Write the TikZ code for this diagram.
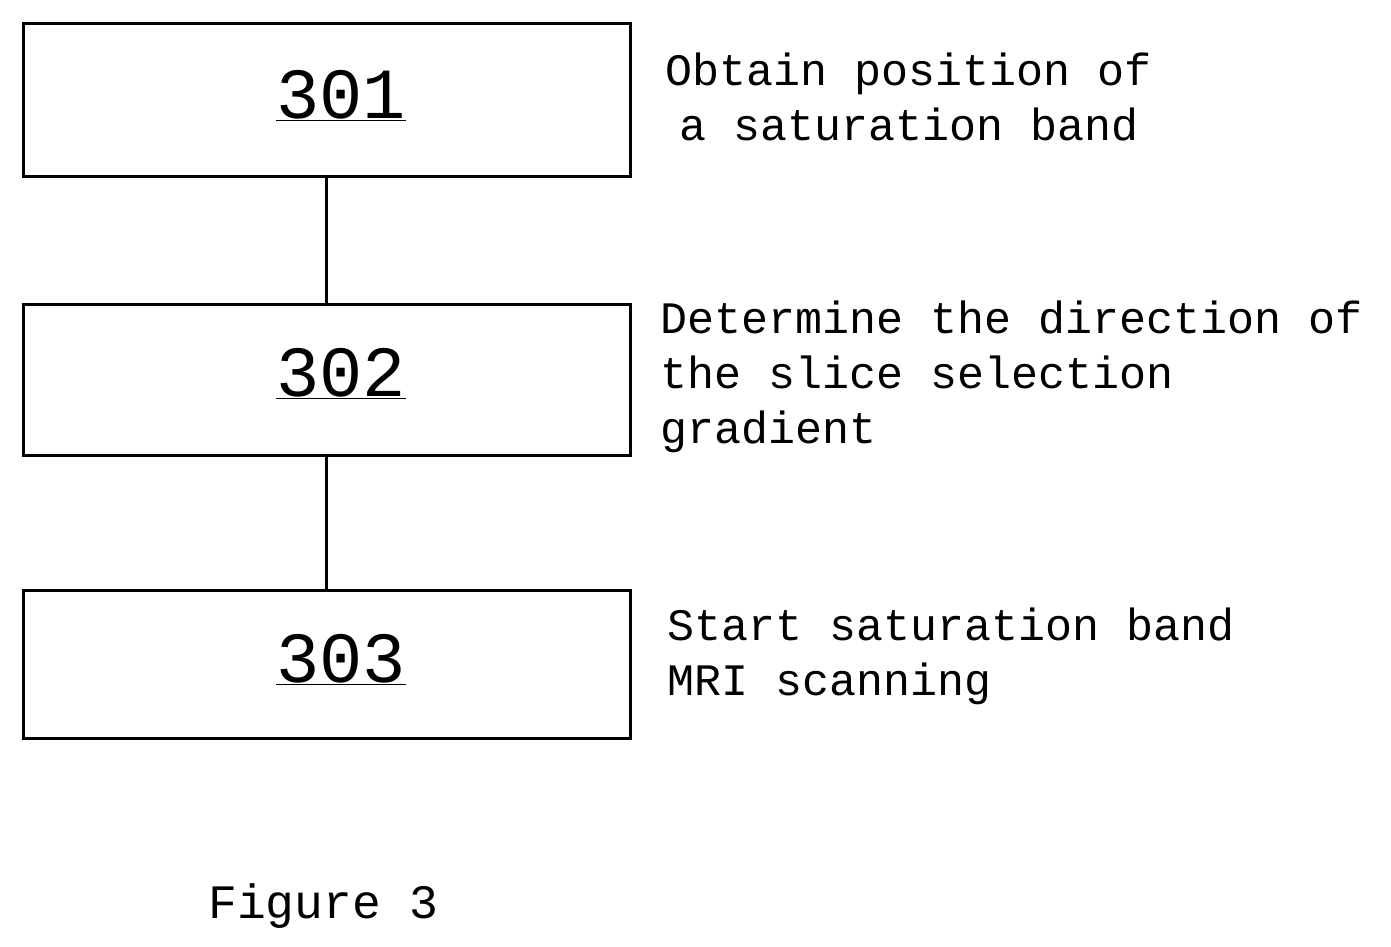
\documentclass[tikz,border=0pt]{standalone}
\usepackage{fontspec}
\setmonofont{Liberation Mono}
\begin{document}
\begin{tikzpicture}[x=1pt,y=-1pt,
  boxst/.style={draw,line width=3pt,minimum width=607pt,anchor=north west,inner sep=0pt},
  numst/.style={font=\ttfamily\fontsize{72}{72}\selectfont,anchor=base,inner sep=0pt},
  txt/.style={font=\ttfamily\fontsize{45}{55}\selectfont,anchor=base west,inner sep=0pt}]
\useasboundingbox (0,0) rectangle (1391,946);
\node[boxst,minimum height=153pt] (b1) at (22,22) {};
\node[boxst,minimum height=151pt] (b2) at (22,303) {};
\node[boxst,minimum height=148pt] (b3) at (22,589) {};
\draw[line width=3pt] (b1.south -| 326,0) -- (b2.north -| 326,0);
\draw[line width=3pt] (b2.south -| 326,0) -- (b3.north -| 326,0);
\node[numst] (n1) at (341,118) {\underline{301}};
\node[numst] (n2) at (341,396) {\underline{302}};
\node[numst] (n3) at (341,682) {\underline{303}};
\node[txt] (t11) at (665,85) {Obtain position of};
\node[txt] (t12) at (679,140) {a saturation band};
\node[txt] (t21) at (660,333) {Determine the direction of};
\node[txt] (t22) at (660,388) {the slice selection};
\node[txt] (t23) at (660,443) {gradient};
\node[txt] (t31) at (667,640) {Start saturation band};
\node[txt] (t32) at (667,695) {MRI scanning};
\node[txt,font=\ttfamily\fontsize{48}{55}\selectfont] (fig) at (208,918) {Figure 3};
\end{tikzpicture}
\end{document}
